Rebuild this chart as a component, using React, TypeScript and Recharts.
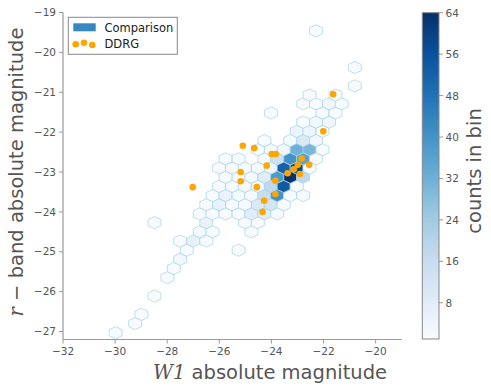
import React from 'react';
import { ComposedChart, Scatter, XAxis, YAxis } from 'recharts';

// Hexbin cells (centre in data units, count in bin)
const hexX = [
  -29.98, -29.23, -28.99, -28.49, -27.99, -27.75, -27.5,
  -27.25, -25.26,
  -27.5, -27.0, -26.5,
  -26.75, -26.26, -24.77,
  -28.49, -26.5, -25.02, -24.52,
  -26.75, -26.26, -25.76, -25.26, -24.77, -24.27, -23.78,
  -26.5, -26.01, -25.51, -25.02, -24.52, -24.02, -23.53,
  -26.26, -25.76, -25.26, -24.77, -24.27, -23.78, -23.28, -22.78,
  -26.01, -25.51, -25.02, -24.52, -24.02, -23.53, -23.03,
  -25.76, -25.26, -24.77, -24.27, -23.78, -23.28, -22.78,
  -26.01, -25.51, -25.02, -24.52, -24.02, -23.53, -23.03, -22.54,
  -25.76, -25.26, -24.27, -23.78, -23.28, -22.78, -22.29,
  -24.52, -24.02, -23.53, -23.03, -22.54, -22.04,
  -24.27, -23.28, -22.78, -22.29,
  -23.03, -22.54, -22.04,
  -22.78, -22.29, -21.79,
  -24.02, -22.04, -21.54,
  -22.78, -22.29, -21.79, -21.3,
  -22.54, -21.54,
  -20.8, -20.8, -22.29,
];
const hexY = [
  -27.03, -26.8, -26.57, -26.11, -25.65, -25.42, -25.19,
  -24.96, -24.96,
  -24.73, -24.73, -24.73,
  -24.5, -24.5, -24.5,
  -24.27, -24.27, -24.27, -24.27,
  -24.05, -24.05, -24.05, -24.05, -24.05, -24.05, -24.05,
  -23.82, -23.82, -23.82, -23.82, -23.82, -23.82, -23.82,
  -23.59, -23.59, -23.59, -23.59, -23.59, -23.59, -23.59, -23.59,
  -23.36, -23.36, -23.36, -23.36, -23.36, -23.36, -23.36,
  -23.13, -23.13, -23.13, -23.13, -23.13, -23.13, -23.13,
  -22.9, -22.9, -22.9, -22.9, -22.9, -22.9, -22.9, -22.9,
  -22.67, -22.67, -22.67, -22.67, -22.67, -22.67, -22.67,
  -22.44, -22.44, -22.44, -22.44, -22.44, -22.44,
  -22.21, -22.21, -22.21, -22.21,
  -21.98, -21.98, -21.98,
  -21.75, -21.75, -21.75,
  -21.52, -21.52, -21.52,
  -21.29, -21.29, -21.29, -21.29,
  -21.07, -21.07,
  -20.84, -20.38, -19.46,
];
const hexCount = [
  1, 1, 1, 1, 1, 1, 3,
  1, 1,
  1, 6, 1,
  2, 1, 1,
  1, 5, 1, 1,
  1, 1, 1, 1, 8, 8, 1,
  1, 5, 1, 1, 10, 12, 1,
  1, 5, 2, 2, 16, 40, 1, 1,
  1, 1, 2, 3, 18, 54, 1,
  1, 1, 2, 8, 38, 64, 18,
  1, 1, 1, 2, 4, 52, 58, 1,
  1, 1, 2, 14, 40, 36, 1,
  1, 2, 3, 32, 30, 1,
  1, 2, 10, 3,
  4, 4, 1,
  1, 3, 3,
  1, 1, 1,
  1, 1, 3, 1,
  1, 1,
  1, 1, 1,
];

// DDRG sample
const ddrgW1 = [
  -21.63, -22.01, -25.1, -24.66, -23.99, -23.83, -24.18, -25.18, -25.18, -24.56,
  -23.85, -23.85, -24.28, -24.34, -27.02, -23.38, -23.14, -22.99, -22.84, -22.91, -22.55,
];
const ddrgR = [
  -21.05, -21.98, -22.34, -22.4, -22.55, -22.55, -22.84, -23.0, -23.23, -23.38,
  -23.22, -23.55, -23.72, -24.0, -23.38, -23.03, -22.93, -22.82, -22.66, -23.05, -22.82,
];

const xTicks = [-32, -30, -28, -26, -24, -22, -20];
const yTicks = [-27, -26, -25, -24, -23, -22, -21, -20, -19];
const cbTicks = [8, 16, 24, 32, 40, 48, 56, 64];
const countMin = 1;
const countMax = 64;

const BLUES = ['#f7fbff', '#deebf7', '#c6dbef', '#9ecae1', '#6baed6', '#4292c6', '#2171b5', '#08519c', '#08306b'];

function hexToRgb(h: string) {
  return [parseInt(h.slice(1, 3), 16), parseInt(h.slice(3, 5), 16), parseInt(h.slice(5, 7), 16)];
}
function blues(t: number) {
  const tt = Math.max(0, Math.min(1, t)) * (BLUES.length - 1);
  const i = Math.min(BLUES.length - 2, Math.floor(tt));
  const f = tt - i;
  const a = hexToRgb(BLUES[i]);
  const b = hexToRgb(BLUES[i + 1]);
  const c = a.map((v, k) => Math.round(v + (b[k] - v) * f));
  return `rgb(${c[0]},${c[1]},${c[2]})`;
}

const hexData = hexX.map((x, i) => ({ x, y: hexY[i], count: hexCount[i] }));
const ddrgData = ddrgW1.map((x, i) => ({ x, y: ddrgR[i] }));

const fmt = (v: number) => (v < 0 ? '\u2212' + Math.abs(v) : String(v));

const Hex = (props: any) => {
  const { cx, cy, payload } = props;
  if (cx == null || cy == null) return null;
  const hw = 6.47;
  const s = 3.05;
  const t = 6.09;
  const pts = [
    [cx + hw, cy + s],
    [cx + hw, cy - s],
    [cx, cy - t],
    [cx - hw, cy - s],
    [cx - hw, cy + s],
    [cx, cy + t],
  ]
    .map((p) => p.join(','))
    .join(' ');
  return (
    <polygon
      points={pts}
      fill={blues((payload.count - countMin) / (countMax - countMin))}
      stroke="#a9d4e6"
      strokeOpacity={0.75}
      strokeWidth={1}
    />
  );
};

const Dot = (props: any) => {
  const { cx, cy } = props;
  if (cx == null || cy == null) return null;
  return <circle cx={cx} cy={cy} r={3.3} fill="#ffa500" />;
};

const FONT = 'DejaVu Sans';
const SPINE = '#999999';
const TXT = '#555555';

export default function App() {
  const cbX = 422.3;
  const cbTop = 12.7;
  const cbBottom = 339;
  const cbW = 16.7;
  const cbY = (v: number) => cbBottom - ((v - countMin) / (countMax - countMin)) * (cbBottom - cbTop);
  return (
    <div style={{ position: 'absolute', left: 0, top: 0, width: 491, height: 390, background: '#ffffff' }}>
      <ComposedChart width={491} height={390} margin={{ top: 12.5, right: 89.3, bottom: 20.5, left: 23 }}>
        <XAxis
          xAxisId={0}
          dataKey="x"
          type="number"
          domain={[-32, -19]}
          ticks={xTicks}
          allowDataOverflow
          tickFormatter={fmt}
          height={30}
          axisLine={{ stroke: SPINE, strokeWidth: 1.2 }}
          tickLine={{ stroke: SPINE }}
          tickSize={4}
          tickMargin={4}
          tick={{ fill: TXT, fontSize: 10.5, fontFamily: FONT }}
        />
        <XAxis
          xAxisId="top"
          orientation="top"
          type="number"
          domain={[-32, -19]}
          ticks={xTicks}
          allowDataOverflow
          tickFormatter={() => ''}
          height={0}
          axisLine={{ stroke: SPINE, strokeWidth: 1.2 }}
          tickLine={{ stroke: SPINE }}
          tickSize={4}
        />
        <YAxis
          yAxisId={0}
          dataKey="y"
          type="number"
          domain={[-27.2, -19]}
          ticks={yTicks}
          allowDataOverflow
          tickFormatter={fmt}
          width={40}
          axisLine={{ stroke: SPINE, strokeWidth: 1.2 }}
          tickLine={{ stroke: SPINE }}
          tickSize={4}
          tickMargin={3}
          tick={{ fill: TXT, fontSize: 10.5, fontFamily: FONT }}
        />
        <YAxis
          yAxisId="right"
          orientation="right"
          type="number"
          domain={[-27.2, -19]}
          ticks={yTicks}
          allowDataOverflow
          tickFormatter={() => ''}
          width={0}
          axisLine={{ stroke: SPINE, strokeWidth: 1.2 }}
          tickLine={{ stroke: SPINE }}
          tickSize={4}
        />
        <Scatter xAxisId={0} yAxisId={0} data={hexData} shape={Hex} isAnimationActive={false} />
        <Scatter xAxisId={0} yAxisId={0} data={ddrgData} shape={Dot} isAnimationActive={false} />
      </ComposedChart>
      <svg
        width={491}
        height={390}
        style={{ position: 'absolute', left: 0, top: 0, pointerEvents: 'none' }}
      >
        <defs>
          <linearGradient id="cbgrad" x1="0" y1="1" x2="0" y2="0">
            {BLUES.map((c, i) => (
              <stop key={i} offset={i / (BLUES.length - 1)} stopColor={c} />
            ))}
          </linearGradient>
        </defs>
        {/* legend */}
        <rect x={68.3} y={17.3} width={109} height={37} fill="#ffffff" stroke="#888888" strokeWidth={1} />
        <rect x={73.3} y={23.3} width={22.4} height={8} fill="#3787c0" />
        <text x={104.5} y={27.5} fontSize={11.5} fontFamily={FONT} fill="#222222" dominantBaseline="central">
          Comparison
        </text>
        <circle cx={75.7} cy={44.3} r={3.3} fill="#ffa500" />
        <circle cx={84} cy={42.7} r={3.3} fill="#ffa500" />
        <circle cx={92.3} cy={45} r={3.3} fill="#ffa500" />
        <text x={104.5} y={44} fontSize={11.5} fontFamily={FONT} fill="#222222" dominantBaseline="central">
          DDRG
        </text>
        {/* axis labels */}
        <text x={270} y={379} fontSize={19.5} fontFamily={FONT} fill={TXT} textAnchor="middle">
          <tspan fontFamily="DejaVu Serif" fontStyle="italic">W1</tspan>
          <tspan> absolute magnitude</tspan>
        </text>
        <text
          x={0}
          y={0}
          fontSize={19.5}
          fontFamily={FONT}
          fill={TXT}
          textAnchor="middle"
          dominantBaseline="central"
          transform="translate(16,172) rotate(-90)"
        >
          <tspan fontFamily="DejaVu Serif" fontStyle="italic">r</tspan>
          <tspan>{' \u2212 band absolute magnitude'}</tspan>
        </text>
        {/* colorbar */}
        <rect x={cbX} y={cbTop} width={cbW} height={cbBottom - cbTop} fill="url(#cbgrad)" stroke="#888888" strokeWidth={1} />
        {cbTicks.map((v) => (
          <g key={v}>
            <line x1={cbX + cbW} x2={cbX + cbW + 4} y1={cbY(v)} y2={cbY(v)} stroke={SPINE} strokeWidth={1} />
            <text x={cbX + cbW + 6.5} y={cbY(v)} fontSize={10.5} fontFamily={FONT} fill={TXT} dominantBaseline="central">
              {v}
            </text>
          </g>
        ))}
        <text
          x={0}
          y={0}
          fontSize={19.5}
          fontFamily={FONT}
          fill={TXT}
          textAnchor="middle"
          dominantBaseline="central"
          transform="translate(474,171) rotate(-90)"
        >
          counts in bin
        </text>
      </svg>
    </div>
  );
}
